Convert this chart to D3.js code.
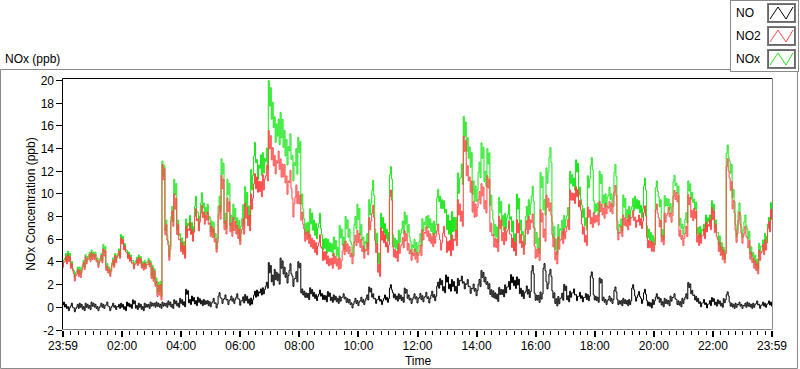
<!DOCTYPE html>
<html><head><meta charset="utf-8">
<script src="https://cdn.jsdelivr.net/npm/d3@7"></script>
<style>
body{margin:0;background:#fff;}
svg{display:block;font-family:"Liberation Sans",Arial,sans-serif;font-size:12px;}
</style>
</head><body>
<svg id="c" width="800" height="369"></svg>
<script>
// ---- data (readings every 6 minutes from 23:59) ----
const startMinute = 0;
const stepMinutes = 6;

const no = [
0.4,0.1,-0.1,0.2,-0.2,0.1,0.2,-0.1,0.2,0.0,0.3,0.1,-0.1,0.2,0.1,0.3,-0.1,0.2,0.0,0.1,0.2,-0.1,0.3,0.1,0.5,0.0,0.2,-0.1,0.2,0.1,0.3,0.2,0.3,0.1,0.3,0.2,0.4,0.1,0.5,0.2,0.6,0.3,1.4,0.5,0.8,0.4,0.7,0.4,0.5,
0.4,0.3,0.6,0.2,1.1,0.6,0.9,0.5,0.8,0.6,1.0,0.5,0.7,0.9,0.5,0.6,1.2,1.3,1.4,1.5,2.0,3.6,2.5,3.0,2.6,4.0,3.2,2.7,3.5,2.4,2.8,3.8,1.4,1.2,1.0,1.5,1.1,0.9,1.3,1.0,0.8,1.2,0.7,0.9,0.6,0.8,1.0,0.7,
0.5,0.2,0.6,0.4,0.7,0.5,0.9,1.6,1.0,0.6,0.8,0.5,0.9,0.7,1.8,1.1,0.8,1.0,0.7,1.5,0.9,0.6,1.0,0.7,1.0,0.8,1.1,0.7,1.2,0.9,2.0,2.3,1.6,2.6,1.8,2.2,1.6,2.3,2.5,2.0,2.2,1.6,1.8,1.4,2.2,3.0,2.4,2.0,1.3,
1.2,0.9,1.5,1.3,1.7,2.0,2.6,2.1,2.4,1.4,1.2,1.6,1.3,3.4,1.0,0.8,1.1,3.6,2.0,3.1,1.2,0.5,0.7,1.0,1.8,0.8,1.2,1.4,0.9,1.1,0.8,1.0,0.9,2.9,0.9,0.7,2.4,0.7,0.5,0.8,0.6,1.6,0.5,0.4,0.6,0.4,0.5,1.8,
0.8,1.2,0.6,1.4,0.4,0.2,0.5,1.0,0.7,0.3,0.6,0.4,0.8,1.0,0.5,0.3,0.6,1.0,2.0,1.3,0.9,0.6,0.3,0.5,0.2,0.4,0.7,0.3,0.5,0.2,0.6,1.2,0.3,0.1,0.2,0.3,0.1,0.2,0.3,0.1,0.2,0.4,0.1,0.3,0.2,0.4,0.3
];

const no2 = [
3.9,4.2,4.4,3.6,2.7,3.1,3.0,3.7,4.2,4.4,4.6,4.4,3.9,4.3,4.9,3.4,3.1,3.9,4.3,4.7,5.9,5.2,4.6,4.2,3.7,4.0,4.2,3.6,3.7,3.9,3.4,2.7,1.8,1.5,12.1,6.8,5.0,8.0,9.5,6.8,5.6,5.0,6.8,7.1,6.5,8.3,7.4,8.6,8.0,
8.0,7.0,6.5,5.6,8.5,11.2,7.2,9.2,7.0,7.5,6.8,6.4,7.3,8.7,7.6,9.5,11.3,11.0,10.6,11.2,12.0,15.0,13.5,12.8,13.2,12.5,12.0,11.0,11.5,9.0,10.2,9.8,8.0,6.5,6.3,6.0,5.5,5.3,6.0,4.8,4.5,4.2,4.0,4.4,3.9,4.0,5.2,5.5,
5.0,4.4,6.0,6.4,5.6,5.0,5.3,7.5,8.6,5.5,3.4,6.6,6.0,5.4,10.0,5.0,4.6,5.3,5.8,6.4,5.3,4.7,4.8,4.5,5.1,6.5,6.8,6.4,5.9,6.2,7.0,5.6,6.8,5.7,5.4,5.9,6.3,9.0,8.0,14.6,12.0,11.0,8.8,8.7,9.8,10.5,9.0,11.2,7.0,
6.0,5.6,7.6,6.2,6.6,7.2,6.0,5.3,7.3,6.0,5.4,7.2,7.6,7.8,5.0,4.8,8.2,6.5,9.5,8.8,6.0,4.5,5.8,6.3,6.6,7.4,10.0,9.7,10.3,9.1,7.0,6.0,8.5,7.6,8.0,7.8,9.0,8.4,8.8,9.0,8.8,10.4,6.5,6.8,7.8,7.4,7.8,8.2,
7.6,7.8,7.5,8.6,5.8,5.5,5.4,8.8,7.6,6.0,8.0,8.5,8.0,10.0,9.8,6.5,6.0,6.8,9.6,8.2,8.4,6.0,6.2,6.6,7.2,7.4,8.4,6.9,5.6,4.9,4.6,12.7,11.0,9.0,6.4,8.0,6.2,6.8,5.8,4.5,4.0,3.5,4.7,5.2,5.6,7.2,8.3
];

const nox = [
4.1,4.5,4.7,3.8,3.0,3.3,3.3,3.9,4.4,4.6,4.8,4.6,4.1,4.5,5.3,3.6,3.3,4.1,4.5,4.9,6.2,5.4,4.8,4.4,3.9,4.2,4.4,3.8,3.9,4.1,3.6,2.9,2.1,1.8,12.4,7.2,5.3,8.4,10.8,7.2,6.0,5.3,7.3,7.6,7.0,9.3,7.9,9.6,8.7,
8.6,7.5,7.0,6.0,9.3,12.6,7.8,10.8,7.6,8.6,7.4,7.0,8.4,10.0,8.3,11.5,13.9,12.4,12.8,13.0,13.4,19.2,17.3,16.0,15.8,16.4,14.8,14.0,14.5,12.6,13.2,14.5,9.5,7.3,7.0,8.2,7.2,6.9,7.8,5.9,5.6,5.6,5.2,5.8,4.9,6.8,5.8,7.6,
6.5,5.2,7.6,8.6,6.8,5.7,6.0,9.0,10.7,6.4,4.3,7.8,6.9,6.5,12.0,6.0,5.5,6.4,7.2,8.0,6.9,5.4,5.6,5.3,6.1,7.4,7.6,7.7,7.0,7.2,10.0,9.4,9.0,8.0,7.0,7.8,7.3,11.2,12.0,16.2,14.3,13.5,10.5,10.2,12.3,14.0,11.5,13.5,9.4,
7.2,6.6,9.2,7.6,7.8,8.6,7.5,6.0,9.5,7.2,6.2,8.4,9.0,10.2,6.5,5.6,11.4,9.0,11.8,13.6,7.0,5.5,6.8,7.2,7.7,8.4,11.6,11.0,12.6,10.2,8.6,7.5,11.2,12.8,9.0,8.8,11.6,9.5,9.6,10.2,9.6,12.2,7.2,7.4,9.5,8.2,8.5,9.2,
9.4,9.0,8.6,11.0,6.8,6.2,6.0,10.8,9.4,6.5,9.5,9.2,8.8,11.3,10.6,7.5,7.0,8.0,10.8,9.8,9.2,6.7,6.8,7.0,7.8,7.8,9.0,7.3,6.2,5.3,4.9,13.9,12.5,10.0,6.9,8.8,6.7,7.8,6.6,5.0,4.5,3.9,5.3,5.6,6.2,7.6,8.9
];

// vertical thickness (ppb) of each trace's minute-scale noise band, per hour from 23:59
const noSpread  = [0.4,0.4,0.4,0.4,0.5,0.5,0.6,1.0,0.6,0.5,0.5,0.5,0.6,0.7,0.7,0.8,0.7,0.6,0.5,0.5,0.5,0.5,0.4,0.4];
const no2Spread = [0.7,0.7,0.6,1.5,1.2,1.3,1.5,1.8,1.2,1.0,1.2,1.0,1.0,1.5,1.2,1.3,1.2,1.0,1.0,1.0,0.9,1.0,1.2,1.0];
const noxSpread = [0.7,0.7,0.6,1.5,1.5,1.5,2.0,2.5,1.5,1.2,1.5,1.2,1.2,2.0,1.5,1.5,1.5,1.2,1.2,1.2,1.0,1.0,1.2,1.0];

const xTickLabels = ["23:59","02:00","04:00","06:00","08:00","10:00","12:00","14:00","16:00","18:00","20:00","22:00","23:59"];
const xTickMinutes = [0,120,240,360,480,600,720,840,960,1080,1200,1320,1440];
const yTicks = [-2,0,2,4,6,8,10,12,14,16,18,20];
const seriesNames = ["NO","NO2","NOx"];
const seriesColors = ["#000000","#ff4646","#19e619"];

// ---- chart ----
const svg = d3.select("#c");
const x = d3.scaleLinear().domain([0,1440]).range([63,772]);
const y = d3.scaleLinear().domain([-2,20]).range([329.5,80]);
const times = no.map((d,i)=>startMinute + i*stepMinutes);

// outer frame
svg.append("path").attr("d","M730,69.5 H0.5 V368.5 H797.5 V72").attr("fill","none").attr("stroke","#8a8a8a");

// title
svg.append("text").attr("x",5).attr("y",63).attr("fill","#000").text("NOx (ppb)");

svg.append("defs").append("clipPath").attr("id","pc").append("rect")
  .attr("x",63).attr("y",79).attr("width",709).attr("height",250);

// each sample drawn as its noise band: sub-pixel steps at the band's top and bottom
const subPattern = [[0.3,-0.6,0.05],[-0.3,0.3,-0.6]];
function tracePoints(vals, spread){
  const pts = [];
  vals.forEach((v,i)=>{
    const xi = x(times[i]);
    const d = spread[Math.min(23, Math.floor(times[i]/60))];
    const p = subPattern[i%2];
    pts.push([xi-1, y(v + p[0]*d)], [xi, y(v + p[1]*d)], [xi+1, y(v + p[2]*d)]);
  });
  return pts;
}
const line = d3.line().curve(d3.curveStep);
const g = svg.append("g").attr("clip-path","url(#pc)");
[[nox,noxSpread,2],[no2,no2Spread,1],[no,noSpread,0]].forEach(([arr,sp,k])=>{
  g.append("path").attr("d",line(tracePoints(arr,sp))).attr("fill","none")
   .attr("stroke",seriesColors[k]).attr("stroke-width",1);
});

// plot border: top/left black, bottom/right gray
svg.append("path").attr("d","M62.5,330 V78.5 H772").attr("fill","none").attr("stroke","#000");
svg.append("path").attr("d","M62,329.5 H772.5 V78").attr("fill","none").attr("stroke","#8a8a8a");

// y axis ticks
const yAxis = svg.append("g");
yTicks.forEach(t=>{
  const yy = Math.round(y(t))+0.5;
  yAxis.append("line").attr("x1",56).attr("x2",62).attr("y1",yy).attr("y2",yy).attr("stroke","#000");
  yAxis.append("text").attr("x",54).attr("y",yy+4).attr("text-anchor","end").attr("fill","#000").text(t);
});

// x axis ticks
const xAxis = svg.append("g");
d3.range(0,1441,15).forEach(m=>{
  const major = xTickMinutes.includes(m);
  const xx = Math.round(x(m)) + (major?0:0.5);
  xAxis.append("line").attr("x1",xx).attr("x2",xx).attr("y1",331).attr("y2",major?337:335)
    .attr("stroke","#000").attr("stroke-width",major?2:1);
});
xTickMinutes.forEach((m,i)=>{
  xAxis.append("text").attr("x",x(m)).attr("y",350).attr("text-anchor","middle").attr("fill","#000").text(xTickLabels[i]);
});
svg.append("text").attr("x",418).attr("y",365).attr("text-anchor","middle").attr("fill","#000").text("Time");
svg.append("text").attr("transform","translate(35,204) rotate(-90)").attr("text-anchor","middle").attr("fill","#000").text("NOx Concentration (ppb)");

// legend
const lg = svg.append("g");
lg.append("rect").attr("x",730.5).attr("y",0.5).attr("width",68).attr("height",71).attr("fill","#fff").attr("stroke","#8a8a8a");
seriesNames.forEach((n,i)=>{
  const cy = 13 + i*23;
  lg.append("text").attr("x",736).attr("y",cy+4).attr("fill","#000").text(n);
  lg.append("rect").attr("x",767.5).attr("y",cy-9.5).attr("width",28).attr("height",19).attr("fill","#fff").attr("stroke","#7a7a7a");
  lg.append("rect").attr("x",768.5).attr("y",cy-8.5).attr("width",26).attr("height",17).attr("fill","none").attr("stroke","#000").attr("stroke-opacity",0.6);
  lg.append("path").attr("d",`M770,${cy+6} L778,${cy-6} L786,${cy+6} L793,${cy-6}`)
    .attr("fill","none").attr("stroke",seriesColors[i]).attr("stroke-width",1);
});
</script>
</body></html>
